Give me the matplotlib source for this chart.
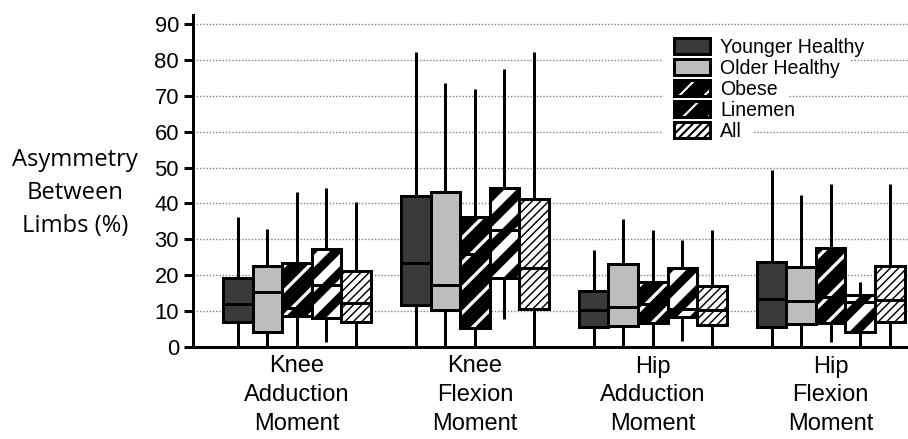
import matplotlib
matplotlib.use("Agg")
import matplotlib.pyplot as plt
from matplotlib.patches import Rectangle
from matplotlib.legend_handler import HandlerTuple
from matplotlib.transforms import IdentityTransform

# ---------------- data ----------------
groups = ["Knee\nAdduction\nMoment", "Knee\nFlexion\nMoment",
          "Hip\nAdduction\nMoment", "Hip\nFlexion\nMoment"]
series = ["Younger Healthy", "Older Healthy", "Obese", "Linemen", "All"]
yticks = [0, 10, 20, 30, 40, 50, 60, 70, 80, 90]
ylabel = "Asymmetry\nBetween\nLimbs (%)"

# each row: [whisker low, Q1, median, Q3, whisker high] per group
younger_healthy = [[0, 7.0, 12.0, 19.2, 36.2],
                   [0, 11.7, 23.3, 42.1, 82.1],
                   [0, 5.7, 10.3, 15.6, 27.0],
                   [0, 5.7, 13.3, 23.8, 49.2]]
older_healthy = [[0, 4.2, 15.3, 22.6, 32.9],
                 [0, 10.3, 17.3, 43.1, 73.5],
                 [0, 5.8, 11.2, 23.0, 35.8],
                 [0, 6.3, 12.9, 22.4, 42.4]]
obese = [[0, 8.6, 11.0, 23.4, 43.2],
         [0, 5.2, 26.0, 36.1, 71.8],
         [0, 6.6, 12.0, 18.0, 32.6],
         [1.4, 6.8, 14.0, 27.5, 45.4]]
linemen = [[1.5, 8.1, 17.3, 27.3, 44.4],
           [7.8, 19.1, 32.6, 44.2, 77.4],
           [1.8, 8.3, 10.5, 21.9, 29.8],
           [0, 4.3, 12.5, 14.5, 18.2]]
all_subjects = [[0, 7.0, 12.3, 21.2, 40.3],
                [0, 10.5, 21.9, 41.2, 82.1],
                [0, 6.2, 10.3, 17.0, 32.6],
                [0, 7.0, 13.1, 22.6, 45.4]]
data = [younger_healthy, older_healthy, obese, linemen, all_subjects]

# ---------------- styles ----------------
DPI = 150
PX = 72.0 / DPI  # points per pixel
styles = [
    dict(face="#3a3a3a", hatch=None, hcol="#3a3a3a", hlw=1.0),
    dict(face="#bdbdbd", hatch=None, hcol="#bdbdbd", hlw=1.0),
    dict(face="black", hatch="//", hcol="white", hlw=1.6),
    dict(face="black", hatch="//", hcol="white", hlw=4.2),
    dict(face="white", hatch="//////", hcol="black", hlw=0.7),
]
LW = 3 * PX
SANS = ["Liberation Sans", "DejaVu Sans"]


def fill_patch(xy, w, h, st, **kw):
    with plt.rc_context({"hatch.linewidth": st["hlw"]}):
        p = Rectangle(xy, w, h, facecolor=st["face"], edgecolor=st["hcol"],
                      linewidth=0, hatch=st["hatch"], **kw)
    if hasattr(p, "set_hatch_linewidth"):
        p.set_hatch_linewidth(st["hlw"])
    return p


fig = plt.figure(figsize=(909 / DPI, 439 / DPI), dpi=DPI)
ax = fig.add_axes([193 / 909, 92 / 439, 1 - 193 / 909, 332 / 439])
ax.set_xlim(-0.584, 3.44)
ax.set_ylim(0, 92.5)

box_w = 0.166
for si, (ser, st) in enumerate(zip(data, styles)):
    for gi, (lo, q1, med, q3, hi) in enumerate(ser):
        xc = gi + (si - 2) * box_w
        ax.plot([xc, xc], [lo, q1], color="black", lw=LW, solid_capstyle="butt", zorder=2)
        ax.plot([xc, xc], [q3, hi], color="black", lw=LW, solid_capstyle="butt", zorder=2)
        ax.add_patch(fill_patch((xc - box_w / 2, q1), box_w, q3 - q1, st, zorder=3))
        ax.plot([xc - box_w / 2, xc + box_w / 2], [med, med], color="black", lw=LW,
                solid_capstyle="butt", zorder=4)
        ax.add_patch(Rectangle((xc - box_w / 2, q1), box_w, q3 - q1, fill=False,
                               edgecolor="black", lw=LW, joinstyle="miter", zorder=5))

# axes styling
for s in ["top", "right"]:
    ax.spines[s].set_visible(False)
for s in ["left", "bottom"]:
    ax.spines[s].set_linewidth(LW)
    ax.spines[s].set_zorder(6)
ax.set_axisbelow(True)
ax.yaxis.grid(True, linestyle=(0, (1, 1.4)), linewidth=1.35 * PX, color="#7a7a7a")
ax.set_yticks(yticks)
ax.set_yticklabels([str(v) for v in yticks], family=SANS)
ax.tick_params(axis="y", length=9 * PX, width=LW, direction="out", pad=5 * PX,
               labelsize=22 * PX)
ax.set_xticks(range(len(groups)))
ax.set_xticklabels(groups, family=SANS, fontsize=23.6 * PX, linespacing=1.40)
ax.tick_params(axis="x", length=0, pad=8.5 * PX)

fig.text(75 / 909, 1 - 193 / 439, ylabel, ha="center", va="center",
         multialignment="center", family=["Open Sans", "DejaVu Sans"],
         fontsize=23.8 * PX, linespacing=1.5)

# legend
handles = []
for st in styles:
    handles.append((fill_patch((0, 0), 1, 1, st),
                    Rectangle((0, 0), 1, 1, fill=False, edgecolor="black", lw=LW)))
LFS = 19.5 * PX
leg = ax.legend(handles, series, handler_map={tuple: HandlerTuple(ndivide=1, pad=0)},
                loc="upper left", bbox_to_anchor=(674 / 909, 1 - 38 / 439),
                bbox_transform=fig.transFigure, frameon=False, borderpad=0,
                borderaxespad=0, handlelength=1.85, handleheight=0.87,
                handletextpad=0.52, labelspacing=0.1,
                prop={"family": SANS, "size": LFS})
leg.set_zorder(7)

# white backgrounds behind each legend row (hide grid)
fig.canvas.draw()
r = fig.canvas.get_renderer()
texts = leg.get_texts()
for i, t in enumerate(texts):
    e = t.get_window_extent(r)
    try:
        x0 = leg.legend_handles[i].get_window_extent(r).x0
    except Exception:
        x0 = e.x0 - 46
    y0 = e.y0 - 2
    y1 = e.y1 + 2
    ax.add_patch(Rectangle((x0 - 11, y0), (e.x1 + 10) - (x0 - 11), y1 - y0,
                           transform=IdentityTransform(), facecolor="white",
                           edgecolor="none", zorder=1))

fig.savefig("out.png", dpi=DPI)
